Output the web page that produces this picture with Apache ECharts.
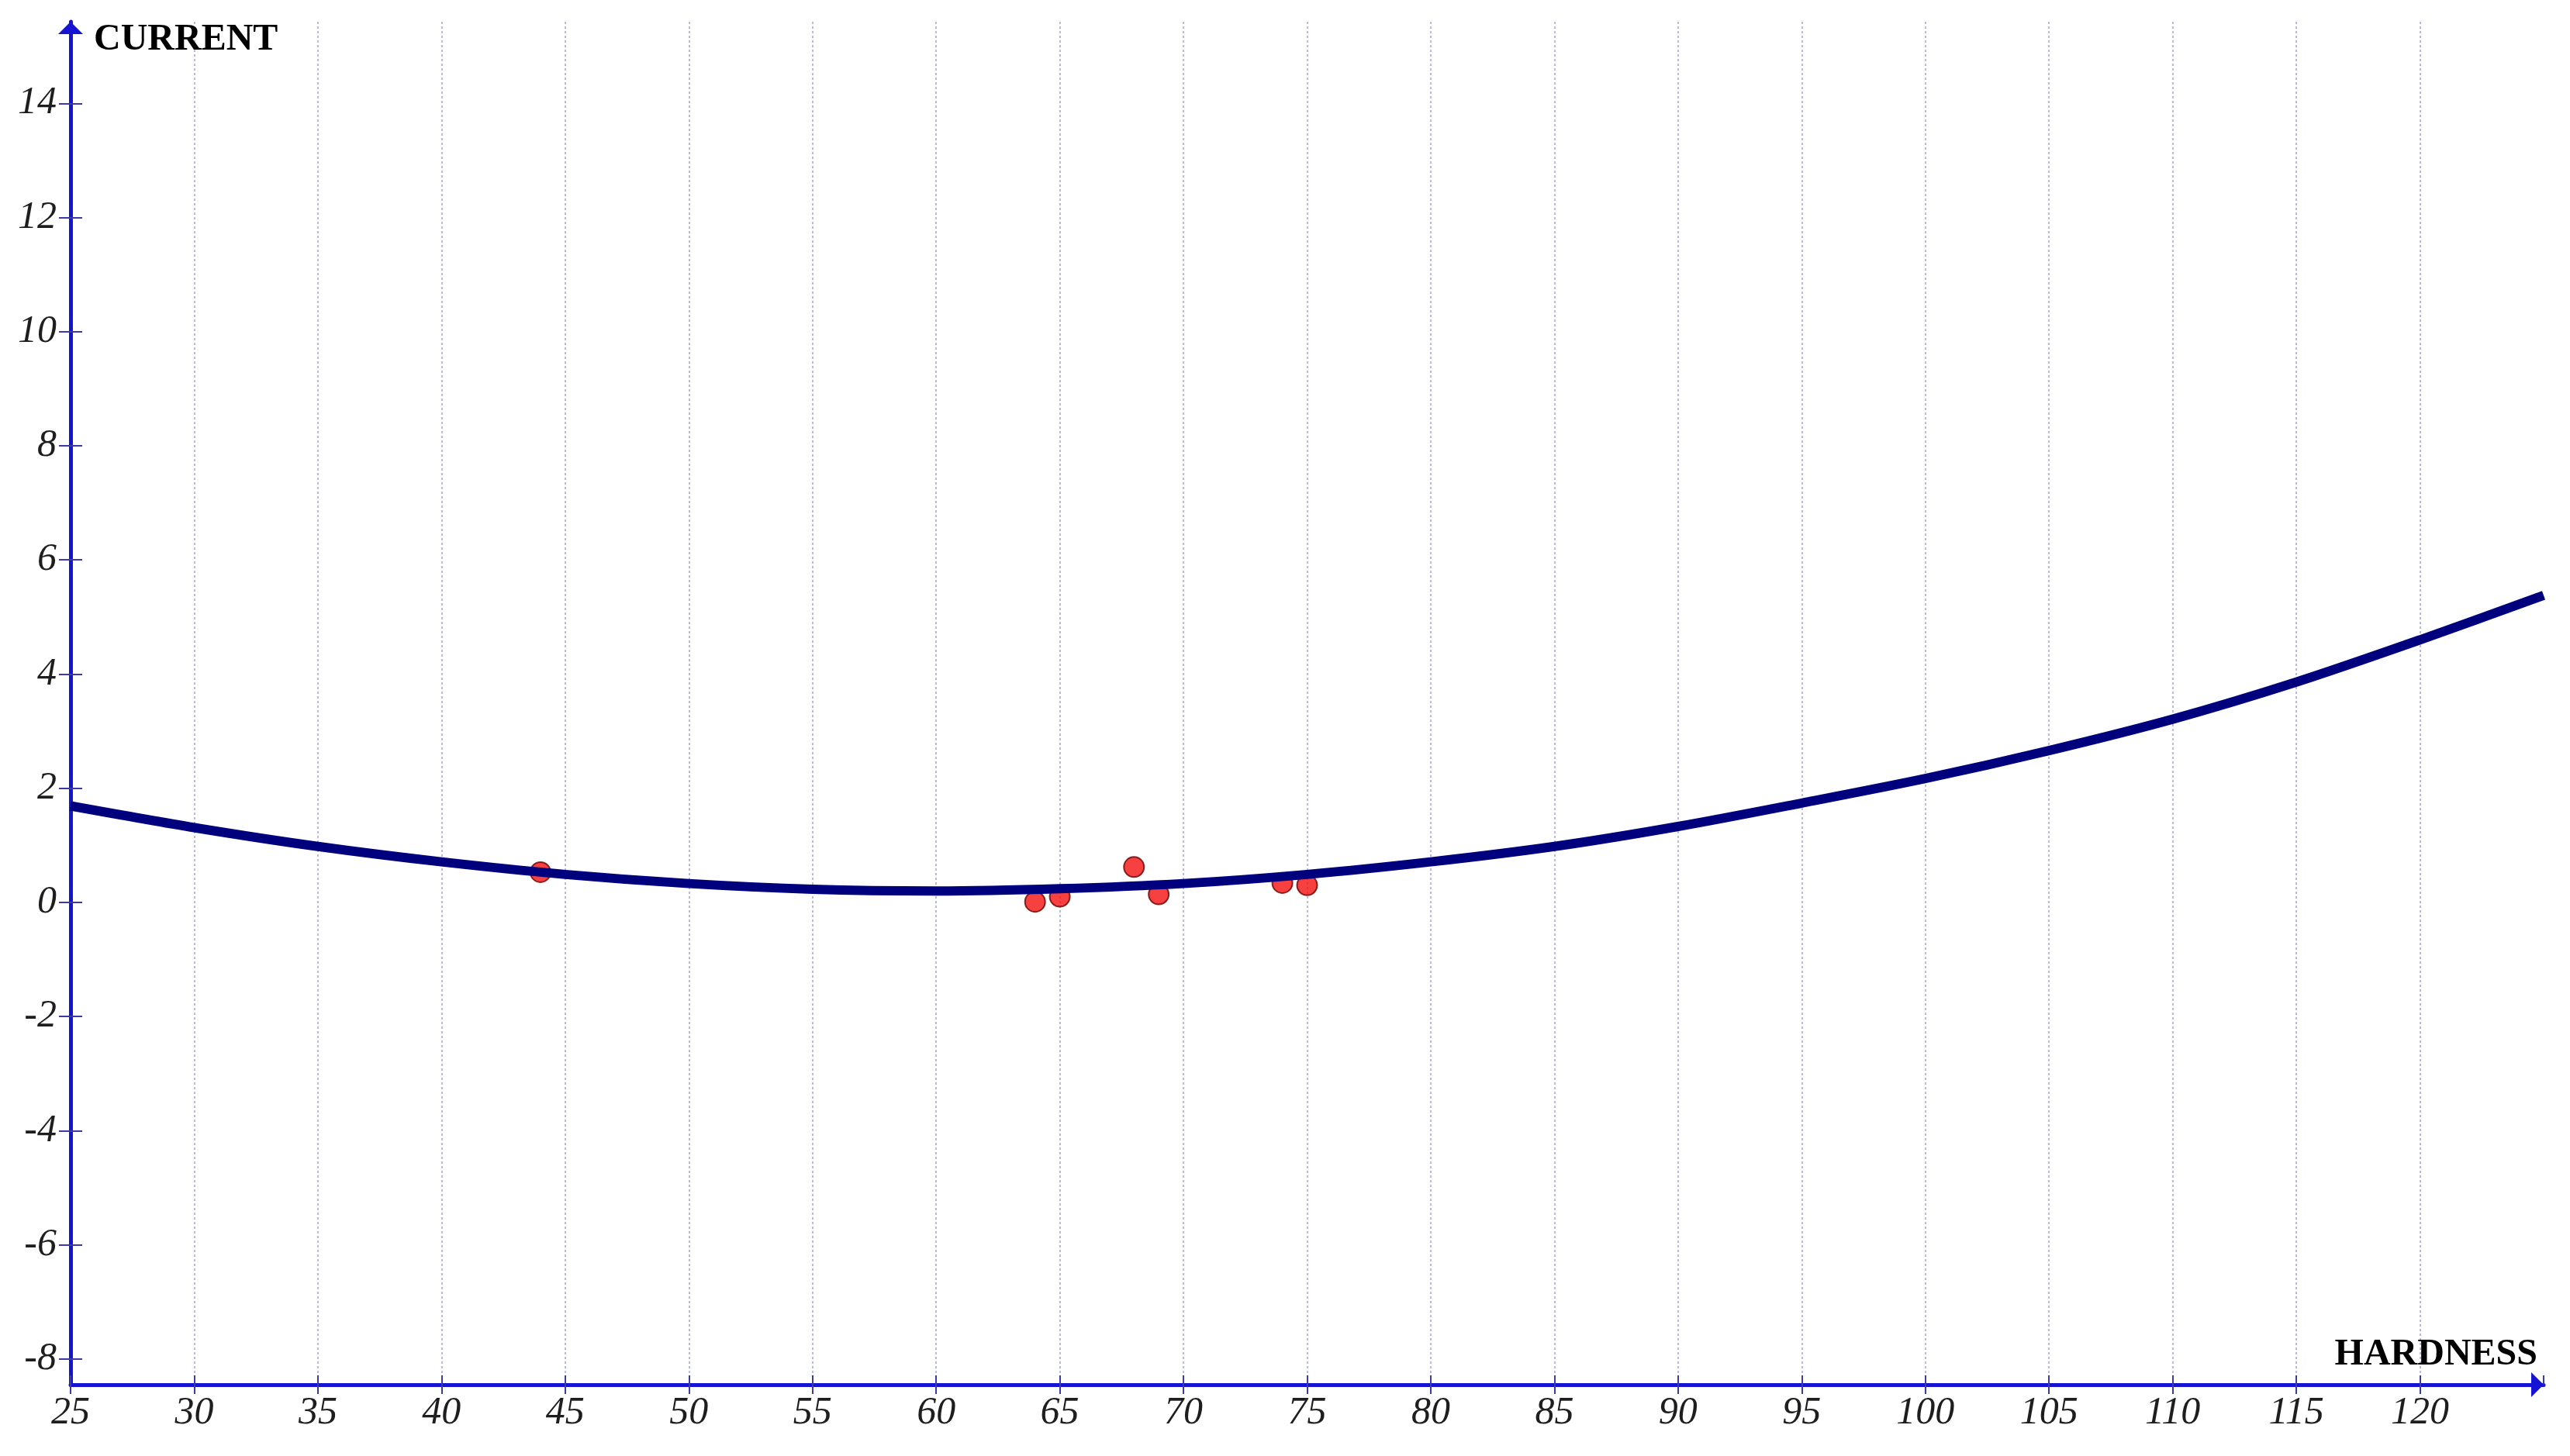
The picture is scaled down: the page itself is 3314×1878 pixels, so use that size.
<!DOCTYPE html>
<html>
<head>
<meta charset="utf-8">
<title>Current vs hardness</title>
<script src="https://cdn.jsdelivr.net/npm/echarts@6/dist/echarts.min.js"></script>
<style>
  html, body { margin: 0; padding: 0; background: #fff; }
  #chart { width: 3314px; height: 1878px; }
</style>
</head>
<body>
<div id="chart"></div>
<script>
// fitted curve, every 5 units of hardness
var curveX = [25, 30, 35, 40, 45, 50, 55, 60, 65, 70, 75, 80, 85, 90, 95, 100, 105, 110, 115, 120, 125]
var curveY = [1.69, 1.31, 0.98, 0.71, 0.49, 0.33, 0.23, 0.20, 0.24, 0.33, 0.49, 0.71, 0.98, 1.33, 1.74, 2.17, 2.66, 3.21, 3.86, 4.60, 5.38]

// measured points
var pointX = [44, 64, 65, 68, 69, 74, 75]
var pointY = [0.53, 0.01, 0.10, 0.62, 0.14, 0.34, 0.30]

var yTicks = [-8, -6, -4, -2, 0, 2, 4, 6, 8, 10, 12, 14]

var axisBlue = '#1414d2'
var tickBlue = '#3a3aa8'
// filled triangle head, wide and short like the original
// (path keeps its own aspect, the square box only sets the scale)
var arrowHead = 'path://M0,16 L16,0 L32,16 Z'
var labelFont = {
  fontFamily: 'Liberation Serif',
  fontStyle: 'italic',
  fontSize: 50,
  color: '#1e1e1e'
}
var nameFont = {
  fontFamily: 'Liberation Serif',
  fontWeight: 'bold',
  fontSize: 48,
  color: '#000'
}

var curveData = curveX.map(function (x, i) { return [x, curveY[i]] })
var pointData = pointX.map(function (x, i) { return [x, pointY[i]] })

var myChart = echarts.init(document.getElementById('chart'), null, { renderer: 'canvas' })
var option = {
  backgroundColor: '#fff',
  animation: false,
  grid: {
    left: 91,
    right: 34,
    top: 28,
    bottom: 92
  },
  xAxis: [
    {
      type: 'value',
      min: 25,
      max: 125,
      interval: 5,
      name: 'HARDNESS',
      nameLocation: 'end',
      nameGap: -8,
      nameTextStyle: Object.assign({}, nameFont, {
        align: 'right',
        verticalAlign: 'bottom',
        padding: [0, 0, 14, 0]
      }),
      axisLine: {
        show: true,
        onZero: false,
        symbol: ['none', arrowHead],
        symbolSize: [32, 32],
        symbolOffset: [0, -8],
        lineStyle: { color: axisBlue, width: 5 }
      },
      axisTick: {
        show: true,
        length: 12,
        lineStyle: { color: tickBlue, width: 2 }
      },
      axisLabel: Object.assign({}, labelFont, {
        margin: 12,
        showMaxLabel: false
      }),
      splitLine: {
        show: true,
        showMinLine: false,
        showMaxLine: false,
        lineStyle: { color: '#b9bdd6', width: 2, type: [3, 3] }
      }
    },
    {
      // second copy of the axis only for the inner half of the cross ticks
      type: 'value',
      position: 'bottom',
      min: 25,
      max: 125,
      interval: 5,
      axisLine: { show: false, onZero: false },
      axisTick: {
        show: true,
        inside: true,
        length: 12,
        lineStyle: { color: tickBlue, width: 2 }
      },
      axisLabel: { show: false },
      splitLine: { show: false }
    }
  ],
  yAxis: [
    {
      type: 'value',
      min: -8.45,
      max: 15.43,
      name: 'CURRENT',
      nameLocation: 'end',
      nameGap: -24,
      nameTextStyle: Object.assign({}, nameFont, {
        align: 'left',
        verticalAlign: 'middle',
        padding: [0, 0, 0, 30]
      }),
      axisLine: {
        show: true,
        onZero: false,
        symbol: ['none', arrowHead],
        symbolSize: [32, 32],
        symbolOffset: [0, -8],
        lineStyle: { color: axisBlue, width: 5 }
      },
      axisTick: {
        show: true,
        length: 15,
        customValues: yTicks,
        lineStyle: { color: tickBlue, width: 2 }
      },
      axisLabel: Object.assign({}, labelFont, {
        margin: 18,
        customValues: yTicks
      }),
      splitLine: { show: false }
    },
    {
      type: 'value',
      position: 'left',
      min: -8.45,
      max: 15.43,
      axisLine: { show: false, onZero: false },
      axisTick: {
        show: true,
        inside: true,
        length: 15,
        customValues: yTicks,
        lineStyle: { color: tickBlue, width: 2 }
      },
      axisLabel: { show: false },
      splitLine: { show: false }
    }
  ],
  series: [
    {
      name: 'points',
      type: 'scatter',
      z: 2,
      symbol: 'circle',
      symbolSize: 26,
      itemStyle: {
        color: '#f51010',
        borderColor: '#6a0000',
        borderWidth: 2
      },
      data: pointData
    },
    {
      name: 'fit',
      type: 'line',
      z: 3,
      smooth: 0.3,
      showSymbol: false,
      lineStyle: { color: '#00007e', width: 12 },
      data: curveData
    }
  ]
}
myChart.setOption(option, true)
</script>
</body>
</html>
